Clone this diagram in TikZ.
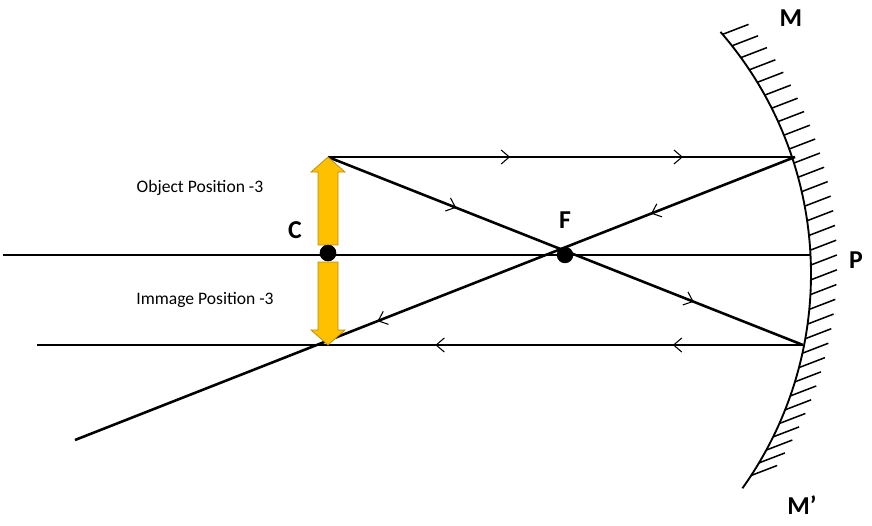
\documentclass[tikz,border=0pt]{standalone}
\usepackage{fontspec}
\setmainfont{Carlito}
\usetikzlibrary{arrows.meta,decorations.markings,calc}
\definecolor{amber}{RGB}{255,192,0}
\definecolor{amberedge}{RGB}{180,140,20}

\tikzset{
  ray/.style={line width=2.2pt},
  chev/.style={decoration={markings,mark=at position #1 with {\arrow{Straight Barb[length=7pt,width=12pt,line width=0.9pt]}}},postaction={decorate}},
  fat/.style={fill=amber,draw=amberedge,line width=0.6pt},
  lbl/.style={font=\fontsize{15}{18}\selectfont},
  big/.style={font=\bfseries\fontsize{22}{24}\selectfont}
}

\begin{document}
\begin{tikzpicture}[x=0.03cm,y=-0.03cm]
\useasboundingbox (0,0) rectangle (872,525);
\coordinate (ctr) at (442,274);
\coordinate (top) at (328,157);
\coordinate (bot) at (323,345);
\coordinate (Mt) at (795,157);
\coordinate (Mb) at (803,345);
\coordinate (Mp) at (810,255);
\coordinate (axl) at (3,255);
\coordinate (bl) at (37,345);
\coordinate (far) at (75,440);
\node[circle,fill,inner sep=0pt,minimum size=14pt] (F) at (565,255) {};
\node[circle,fill,inner sep=0pt,minimum size=14pt] (C) at (328,253) {};

% mirror
\draw[line width=1.6pt] ($(ctr)+(-41:369)$) arc (-41:35.5:369);
\foreach \a in {-40.5,-38.2,...,35} {
  \draw[line width=1.3pt] ($(ctr)+(\a:369)$) -- ++(26,-10);
}

% rays
\draw[ray] (axl) -- (Mp);
\draw[ray] (top) -- (Mt);
\draw[chev=0.39] (top) -- (Mt);
\draw[chev=0.76] (top) -- (Mt);
\draw[ray] (top) -- (Mb);
\draw[chev=0.27] (top) -- (Mb);
\draw[chev=0.77] (top) -- (Mb);
\draw[ray] (Mt) -- (far);
\draw[chev=0.2] (Mt) -- (far);
\draw[chev=0.58] (Mt) -- (far);
\draw[ray] (Mb) -- (bl);
\draw[chev=0.17] (Mb) -- (bl);
\draw[chev=0.48] (Mb) -- (bl);

% object and image
\draw[fat] (318,245) -- (318,172) -- (311,172) -- (328,157) -- (345,172) -- (338,172) -- (338,245) -- cycle;
\draw[fat] (318,262) -- (318,330) -- (311,330) -- (328,345) -- (345,330) -- (338,330) -- (338,262) -- cycle;
\node[circle,fill,inner sep=0pt,minimum size=14pt] at (C) {};

\node[lbl] (obj) at (200,188) {Object Position -3};
\node[lbl] (img) at (205,300) {Immage Position -3};
\node[big] (lC) at (295,230) {C};
\node[big] (lF) at (565,220) {F};
\node[big] (lP) at (856,260) {P};
\node[big] (lM) at (791,18) {M};
\node[big] (lMp) at (802,505) {M’};
\end{tikzpicture}
\end{document}
